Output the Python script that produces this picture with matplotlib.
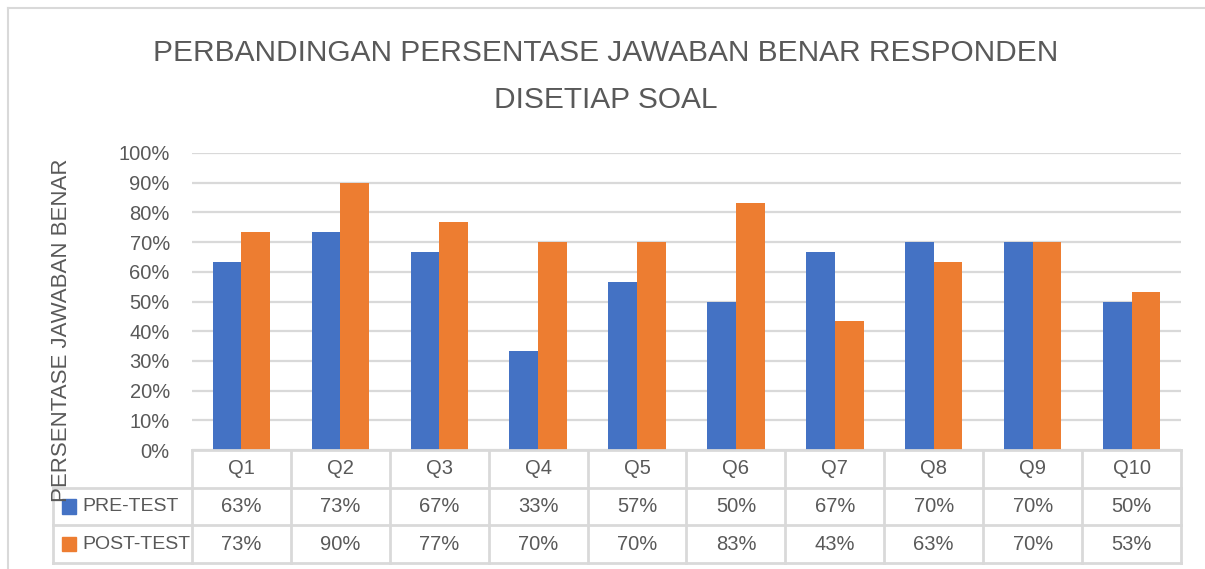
"""Bar chart with data table: pre-test vs post-test correct answers per question."""

import matplotlib
matplotlib.use("Agg")
import matplotlib.pyplot as plt
from matplotlib.patches import Rectangle
import numpy as np

W, H = 1205, 569

QUESTIONS = ["Q1", "Q2", "Q3", "Q4", "Q5", "Q6", "Q7", "Q8", "Q9", "Q10"]
PRE_TEST = [63.33, 73.33, 66.67, 33.33, 56.67, 50.0, 66.67, 70.0, 70.0, 50.0]
POST_TEST = [73.33, 90.0, 76.67, 70.0, 70.0, 83.33, 43.33, 63.33, 70.0, 53.33]
SERIES = ["PRE-TEST", "POST-TEST"]
Y_TICKS = [0, 10, 20, 30, 40, 50, 60, 70, 80, 90, 100]

BLUE = "#4472C4"
ORANGE = "#ED7D31"
GRID = "#D9D9D9"
TEXT = "#595959"
FONT = ["Liberation Sans", "DejaVu Sans"]

plt.rcParams["font.family"] = FONT


def box(left, top, right, bottom):
    """pixel box (from top-left) -> figure fraction rect"""
    return [left / W, 1 - bottom / H, (right - left) / W, (bottom - top) / H]


fig = plt.figure(figsize=(W / 100, H / 100), dpi=100)

# chart border (only left/top visible in the reference)
fig.add_artist(plt.Line2D([8 / W, 8 / W], [0, 1 - 8 / H], color=GRID, lw=1.5))
fig.add_artist(plt.Line2D([8 / W, 1], [1 - 8 / H, 1 - 8 / H], color=GRID, lw=1.5))

# title
fig.text(0.503, 1 - 53 / H, "PERBANDINGAN PERSENTASE JAWABAN BENAR RESPONDEN",
         ha="center", va="center", fontsize=21.5, color=TEXT)
fig.text(0.503, 1 - 100 / H, "DISETIAP SOAL",
         ha="center", va="center", fontsize=21.5, color=TEXT)

# ---- bars ----
ax = fig.add_axes(box(192, 153, 1181, 450))
x = np.arange(len(QUESTIONS))
bw = 0.29
ax.bar(x - bw / 2, PRE_TEST, bw, color=BLUE, zorder=3)
ax.bar(x + bw / 2, POST_TEST, bw, color=ORANGE, zorder=3)
ax.set_xlim(-0.5, len(QUESTIONS) - 0.5)
ax.set_ylim(0, 100)
ax.set_yticks(Y_TICKS)
ax.set_yticklabels([f"{t}%" for t in Y_TICKS], fontsize=14.5, color=TEXT)
ax.tick_params(axis="y", length=0, pad=16)
ax.set_xticks([])
ax.yaxis.grid(True, color=GRID, lw=1.6, zorder=0)
for s in ax.spines.values():
    s.set_visible(False)

fig.text(62 / W, 1 - 330 / H, "PERSENTASE JAWABAN BENAR", rotation=90,
         ha="center", va="center", fontsize=16, color=TEXT)

# ---- data table ----
legend_w = (192 - 53) / (1181 - 192) * len(QUESTIONS)
tx = fig.add_axes(box(53, 450, 1181, 563))
tx.set_xlim(-0.5 - legend_w, len(QUESTIONS) - 0.5)
tx.set_ylim(3, 0)
tx.axis("off")

lw = 2
left_edge = -0.5 - legend_w
right_edge = len(QUESTIONS) - 0.5
px = (right_edge - left_edge) / (1181 - 53)  # data units per pixel
# horizontal lines
tx.plot([-0.5, right_edge], [0, 0], color=GRID, lw=lw, clip_on=False)
for r in (1, 2, 3):
    tx.plot([left_edge, right_edge], [r, r], color=GRID, lw=lw, clip_on=False)
# vertical lines
tx.plot([left_edge, left_edge], [1, 3], color=GRID, lw=lw, clip_on=False)
for i in range(len(QUESTIONS) + 1):
    tx.plot([i - 0.5, i - 0.5], [0, 3], color=GRID, lw=lw, clip_on=False)

for i, q in enumerate(QUESTIONS):
    tx.text(i, 0.5, q, ha="center", va="center", fontsize=14.5, color=TEXT)
    tx.text(i, 1.5, f"{PRE_TEST[i]:.0f}%", ha="center", va="center",
            fontsize=14.5, color=TEXT)
    tx.text(i, 2.5, f"{POST_TEST[i]:.0f}%", ha="center", va="center",
            fontsize=14.5, color=TEXT)

for r, (name, col) in enumerate(zip(SERIES, [BLUE, ORANGE])):
    tx.add_patch(Rectangle((left_edge + 9 * px, r + 1.5 - 0.19), 14 * px, 0.38,
                           color=col, clip_on=False))
    tx.text(left_edge + 29 * px, r + 1.5, name,
            ha="left", va="center", fontsize=14, color=TEXT)

fig.savefig("out.png", dpi=100)
